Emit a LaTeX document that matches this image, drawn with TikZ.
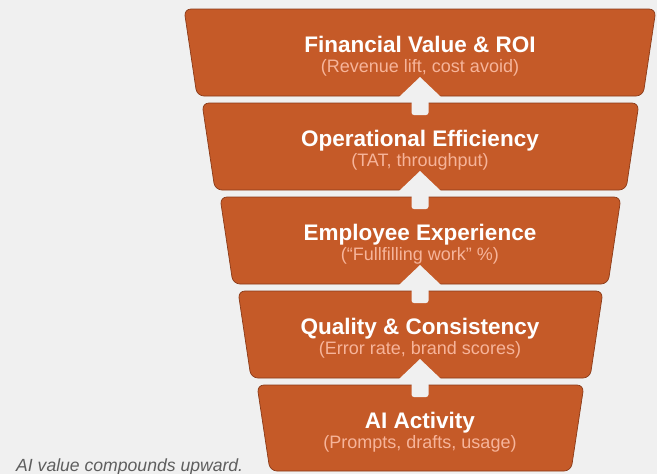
\documentclass[tikz,border=0pt]{standalone}
\usepackage{fontspec}
\setmainfont{Liberation Sans}
\usetikzlibrary{calc}
\definecolor{bg}{HTML}{F0F0F0}
\definecolor{tierfill}{HTML}{C55A28}
\definecolor{tieredge}{HTML}{8A3A18}
\definecolor{subtext}{HTML}{F6B49A}
\definecolor{captiongray}{HTML}{5E5E5E}
\begin{document}
\begin{tikzpicture}[x=1pt,y=-1pt,
  tier/.style={fill=tierfill, draw=tieredge, line width=0.7pt, rounded corners=7pt},
  tiertitle/.style={anchor=base, text=white, inner sep=0pt,
    font=\fontsize{22.5}{26}\selectfont\bfseries},
  tiersub/.style={anchor=base, text=subtext, inner sep=0pt,
    font=\fontsize{18}{21}\selectfont},
  liftarrow/.style={fill=bg}]
  % canvas
  \fill[bg] (0,0) rectangle (657,474);
  \useasboundingbox (0,0) rectangle (657,474);

  % tiers: number / top / bottom / left / right / title / subtitle
  \foreach \n/\T/\B/\L/\R/\ttl/\sbt in {
    1/9/96/184/656/{Financial Value \& ROI}/{(Revenue lift, cost avoid)},
    2/103/190/202/639/{Operational Efficiency}/{(TAT, throughput)},
    3/197/284/220/621/{Employee Experience}/{(“Fullfilling work” \%)},
    4/291/378/238/603/{Quality \& Consistency}/{(Error rate, brand scores)},
    5/385/471/257/584/{AI Activity}/{(Prompts, drafts, usage)}} {
    \draw[tier] (\L,\T) -- (\R,\T) -- (\R-13,\B) -- (\L+13,\B) -- cycle;
    \coordinate (top\n) at (420,\T);
    \coordinate (bot\n) at (420,\B);
    \node[tiertitle] (title\n) at (420,\T+43) {\ttl};
    \node[tiersub] (sub\n) at (420,\T+63) {\sbt};
  }

  % block arrows from each tier up into the one above
  \foreach \lo/\hi in {2/1,3/2,4/3,5/4} {
    \fill[liftarrow] ($(bot\hi)+(8.5,1)$)
      [rounded corners=2.5pt] -- ($(top\lo)+(8.5,12)$) -- ($(top\lo)+(-8.5,12)$)
      [sharp corners] -- ($(bot\hi)+(-8.5,1)$) -- ($(bot\hi)+(-21,1)$)
      -- ($(bot\hi)+(0,-19)$) -- ($(bot\hi)+(21,1)$) -- cycle;
  }

  \node[anchor=base west, text=captiongray, inner sep=0pt,
    font=\fontsize{17.6}{20}\selectfont\itshape] (caption) at (16,471)
    {AI value compounds upward.};
\end{tikzpicture}
\end{document}
